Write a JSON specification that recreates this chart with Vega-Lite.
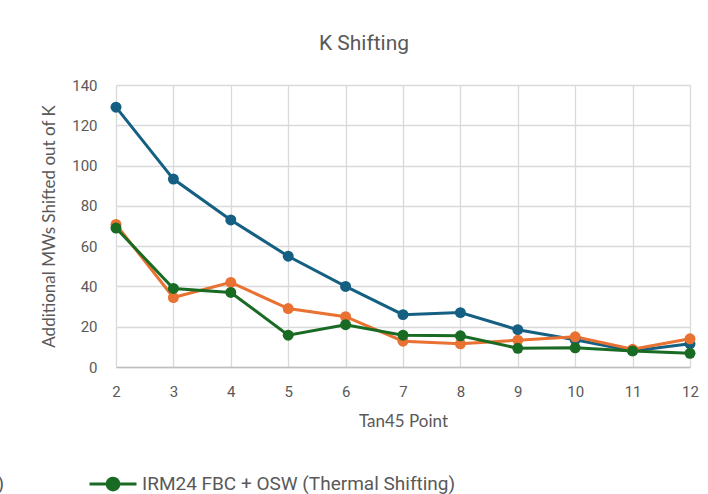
{
  "$schema": "https://vega.github.io/schema/vega-lite/v6.json",
  "autosize": "none",
  "width": 574,
  "height": 282,
  "padding": {"left": 116, "top": 85, "right": 18, "bottom": 127},
  "background": "white",
  "title": {
    "text": "K Shifting",
    "font": "Roboto",
    "fontSize": 21,
    "fontWeight": "normal",
    "color": "#595959",
    "anchor": "middle",
    "dx": -39,
    "offset": 24
  },
  "config": {
    "view": {"stroke": null},
    "axis": {
      "labelFont": "Roboto",
      "labelFontSize": 15,
      "labelColor": "#595959",
      "titleFont": "Lato",
      "titleFontSize": 17,
      "titleFontWeight": "normal",
      "titleColor": "#595959",
      "gridColor": "#d9d9d9",
      "gridWidth": 1.3,
      "ticks": false
    }
  },
  "data": {
    "values": [
      {"x": 2, "series": "IRM24 FBC (Thermal Shifting)", "value": 129},
      {"x": 3, "series": "IRM24 FBC (Thermal Shifting)", "value": 93.3},
      {"x": 4, "series": "IRM24 FBC (Thermal Shifting)", "value": 73},
      {"x": 5, "series": "IRM24 FBC (Thermal Shifting)", "value": 55},
      {"x": 6, "series": "IRM24 FBC (Thermal Shifting)", "value": 40},
      {"x": 7, "series": "IRM24 FBC (Thermal Shifting)", "value": 26},
      {"x": 8, "series": "IRM24 FBC (Thermal Shifting)", "value": 27},
      {"x": 9, "series": "IRM24 FBC (Thermal Shifting)", "value": 18.5},
      {"x": 10, "series": "IRM24 FBC (Thermal Shifting)", "value": 13.5},
      {"x": 11, "series": "IRM24 FBC (Thermal Shifting)", "value": 8},
      {"x": 12, "series": "IRM24 FBC (Thermal Shifting)", "value": 11.5},
      {"x": 2, "series": "IRM24 FBC + OSW (Economic Shifting)", "value": 70.8},
      {"x": 3, "series": "IRM24 FBC + OSW (Economic Shifting)", "value": 34.5},
      {"x": 4, "series": "IRM24 FBC + OSW (Economic Shifting)", "value": 42},
      {"x": 5, "series": "IRM24 FBC + OSW (Economic Shifting)", "value": 29},
      {"x": 6, "series": "IRM24 FBC + OSW (Economic Shifting)", "value": 25},
      {"x": 7, "series": "IRM24 FBC + OSW (Economic Shifting)", "value": 12.8},
      {"x": 8, "series": "IRM24 FBC + OSW (Economic Shifting)", "value": 11.5},
      {"x": 9, "series": "IRM24 FBC + OSW (Economic Shifting)", "value": 13.3},
      {"x": 10, "series": "IRM24 FBC + OSW (Economic Shifting)", "value": 15},
      {"x": 11, "series": "IRM24 FBC + OSW (Economic Shifting)", "value": 8.8},
      {"x": 12, "series": "IRM24 FBC + OSW (Economic Shifting)", "value": 14},
      {"x": 2, "series": "IRM24 FBC + OSW (Thermal Shifting)", "value": 69},
      {"x": 3, "series": "IRM24 FBC + OSW (Thermal Shifting)", "value": 39},
      {"x": 4, "series": "IRM24 FBC + OSW (Thermal Shifting)", "value": 37},
      {"x": 5, "series": "IRM24 FBC + OSW (Thermal Shifting)", "value": 15.8},
      {"x": 6, "series": "IRM24 FBC + OSW (Thermal Shifting)", "value": 21},
      {"x": 7, "series": "IRM24 FBC + OSW (Thermal Shifting)", "value": 15.8},
      {"x": 8, "series": "IRM24 FBC + OSW (Thermal Shifting)", "value": 15.5},
      {"x": 9, "series": "IRM24 FBC + OSW (Thermal Shifting)", "value": 9.3},
      {"x": 10, "series": "IRM24 FBC + OSW (Thermal Shifting)", "value": 9.5},
      {"x": 11, "series": "IRM24 FBC + OSW (Thermal Shifting)", "value": 8},
      {"x": 12, "series": "IRM24 FBC + OSW (Thermal Shifting)", "value": 6.8}
    ]
  },
  "mark": {"type": "line", "strokeWidth": 3, "point": {"filled": true, "size": 120, "opacity": 1}},
  "encoding": {
    "x": {
      "field": "x",
      "type": "quantitative",
      "scale": {"domain": [2, 12], "nice": false, "zero": false},
      "axis": {
        "title": "Tan45 Point",
        "values": [2, 3, 4, 5, 6, 7, 8, 9, 10, 11, 12],
        "labelFlush": false,
        "labelPadding": 17,
        "titlePadding": 14,
        "domainColor": "#bfbfbf",
        "domainWidth": 1.5
      }
    },
    "y": {
      "field": "value",
      "type": "quantitative",
      "scale": {"domain": [0, 140], "nice": false},
      "axis": {
        "title": "Additional MWs Shifted out of K",
        "values": [0, 20, 40, 60, 80, 100, 120, 140],
        "domain": false,
        "labelPadding": 19,
        "titlePadding": 13
      }
    },
    "color": {
      "field": "series",
      "type": "nominal",
      "scale": {
        "domain": ["IRM24 FBC (Thermal Shifting)", "IRM24 FBC + OSW (Economic Shifting)", "IRM24 FBC + OSW (Thermal Shifting)"],
        "range": ["#156082", "#e97132", "#196b24"]
      },
      "legend": {
        "title": null,
        "orient": "none",
        "direction": "horizontal",
        "legendX": -493,
        "legendY": 374,
        "values": ["IRM24 FBC + OSW (Economic Shifting)", "IRM24 FBC + OSW (Thermal Shifting)"],
        "symbolType": "M-1,0L1,0M0.25,0A0.25,0.25 0 1 1 -0.25,0A0.25,0.25 0 1 1 0.25,0Z",
        "symbolSize": 2209,
        "symbolStrokeWidth": 3,
        "symbolOpacity": 1,
        "labelFont": "Roboto",
        "labelFontSize": 19,
        "labelColor": "#595959",
        "labelLimit": 600,
        "labelOffset": 4,
        "columnPadding": 78,
        "encode": {
          "symbols": {"update": {"fill": {"scale": "color", "field": "value"}, "stroke": {"scale": "color", "field": "value"}}}
        }
      }
    }
  }
}
